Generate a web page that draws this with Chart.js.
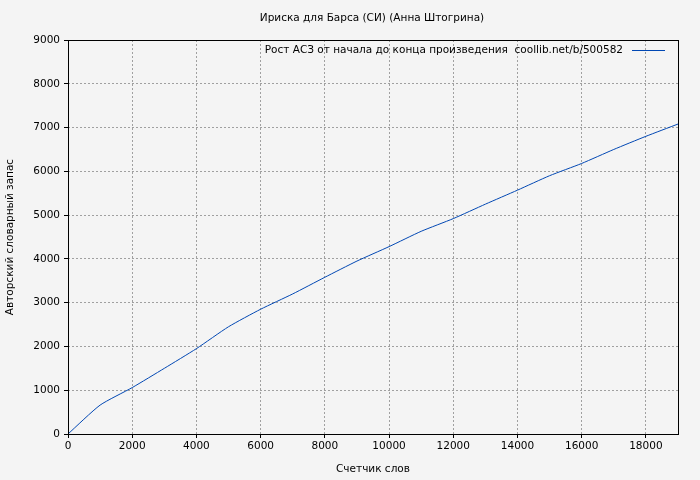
<!DOCTYPE html>
<html>
<head>
<meta charset="utf-8">
<script src="https://cdn.jsdelivr.net/npm/chart.js@4"></script>
<style>
  body { margin: 0; background: #f4f4f4; }
  #wrap { width: 700px; height: 480px; }
</style>
</head>
<body>
<div id="wrap"><canvas id="c"></canvas></div>
<script>
// Данные: счетчик слов и авторский словарный запас
const words = [0, 1000, 2000, 3000, 4000, 5000, 6000, 7000, 8000, 9000, 10000,
  11000, 12000, 13000, 14000, 15000, 16000, 17000, 18000, 19000];
const vocab = [0, 660, 1060, 1500, 1950, 2450, 2850, 3200, 3580, 3950, 4280,
  4630, 4920, 5250, 5570, 5900, 6180, 6500, 6800, 7080];
const xTicks = [0, 2000, 4000, 6000, 8000, 10000, 12000, 14000, 16000, 18000];
const yTicks = [0, 1000, 2000, 3000, 4000, 5000, 6000, 7000, 8000, 9000];
const titleText = 'Ириска для Барса (СИ) (Анна Штогрина)';
const seriesLabel = 'Рост АСЗ от начала до конца произведения  coollib.net/b/500582';
const xTitle = 'Счетчик слов';
const yTitle = 'Авторский словарный запас';

const font = { family: 'DejaVu Sans', size: 10.5 };
const lineColor = '#0047b3';

const overlay = {
  id: 'overlay',
  afterDraw(chart) {
    const { ctx, chartArea } = chart;
    ctx.save();
    ctx.font = '10.5px "DejaVu Sans"';
    ctx.fillStyle = '#000';
    ctx.textAlign = 'center';
    ctx.textBaseline = 'middle';
    ctx.fillText(titleText, 372, 18);
    // легенда
    const ly = chartArea.top + 10;
    ctx.textAlign = 'right';
    ctx.fillText(seriesLabel, chartArea.right - 55, ly);
    ctx.strokeStyle = lineColor;
    ctx.lineWidth = 1;
    ctx.beginPath();
    ctx.moveTo(chartArea.right - 46, ly + 0.5);
    ctx.lineTo(chartArea.right - 13, ly + 0.5);
    ctx.stroke();
    // рамка
    ctx.strokeStyle = '#000';
    ctx.strokeRect(chartArea.left + 0.5, chartArea.top + 0.5, chartArea.width, chartArea.height);
    ctx.restore();
  }
};

new Chart(document.getElementById('c'), {
  type: 'line',
  data: {
    datasets: [{
      label: seriesLabel,
      data: words.map((w, i) => ({ x: w, y: vocab[i] })),
      borderColor: lineColor,
      borderWidth: 1,
      pointRadius: 0,
      tension: 0.2,
      fill: false
    }]
  },
  options: {
    responsive: true,
    maintainAspectRatio: false,
    animation: false,
    layout: { padding: { top: 40, right: 22, left: 0, bottom: 0 } },
    plugins: { legend: { display: false }, tooltip: { enabled: false } },
    scales: {
      x: {
        type: 'linear', min: 0, max: 19000,
        afterFit: s => { s.height = 46; },
        afterBuildTicks: s => { s.ticks = xTicks.map(v => ({ value: v })); },
        ticks: { color: '#000', font, maxRotation: 0, padding: 2, callback: v => String(v) },
        grid: { color: '#a0a0a0', tickLength: 4, tickColor: '#000' },
        border: { display: false, dash: [2, 2] },
        title: { display: true, text: xTitle, color: '#000', font, padding: { top: 4 } }
      },
      y: {
        min: 0, max: 9000,
        afterFit: s => { s.width = 68; },
        afterBuildTicks: s => { s.ticks = yTicks.map(v => ({ value: v })); },
        ticks: { color: '#000', font, padding: 4, callback: v => String(v) },
        grid: { color: '#a0a0a0', tickLength: 4, tickColor: '#000' },
        border: { display: false, dash: [2, 2] },
        title: { display: true, text: yTitle, color: '#000', font, padding: { bottom: 4 } }
      }
    }
  },
  plugins: [overlay]
});
</script>
</body>
</html>
